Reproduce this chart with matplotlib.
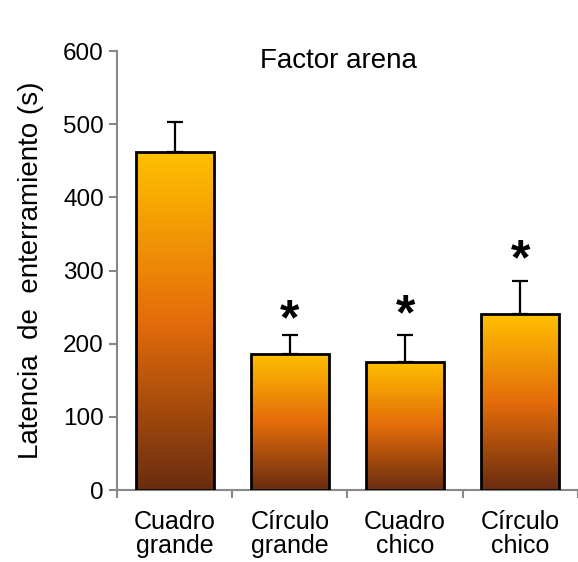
import numpy as np
import matplotlib
matplotlib.use('Agg')
import matplotlib.pyplot as plt
from matplotlib.colors import LinearSegmentedColormap
from matplotlib.patches import Rectangle
from matplotlib.transforms import offset_copy

plt.rcParams['font.family'] = ['Liberation Sans', 'DejaVu Sans']

categories = ['Cuadro\ngrande', 'Círculo\ngrande', 'Cuadro\nchico', 'Círculo\nchico']
means = [462, 186, 175, 240]
errors = [41, 26, 37, 46]
# height of the significance asterisk (None = no mark)
star_y = [None, 246, 253, 328]

grad = LinearSegmentedColormap.from_list(
    'arena', [(0.0, '#6a2c10'), (0.5, '#e46c0a'), (1.0, '#ffc000')])

fig = plt.figure(figsize=(5.78, 5.62), dpi=100)
ax = fig.add_axes([0.2024, 0.128, 0.7976, 0.781])

x = np.arange(len(categories))
width = 0.675
ax.set_xlim(-0.5, len(categories) - 0.5)
ax.set_ylim(0, 600)

gradient = np.linspace(0, 1, 256).reshape(-1, 1)
for xi, m in zip(x, means):
    rect = Rectangle((xi - width / 2, 0), width, m, facecolor='none',
                     edgecolor='black', linewidth=2, zorder=3)
    ax.add_patch(rect)
    im = ax.imshow(gradient, cmap=grad, origin='lower', aspect='auto',
                   extent=(xi - width / 2, xi + width / 2, 0, m), zorder=2)
    im.set_clip_path(rect)

ax.errorbar(x, means, yerr=[np.zeros(len(means)), errors], fmt='none',
            ecolor='black', elinewidth=1.6, capsize=6, capthick=1.6, zorder=4)

# glyph sits high in its box, so shift it down to center the star itself
star_tr = offset_copy(ax.transData, fig=fig, y=-8, units='points')
for xi, sy in zip(x, star_y):
    if sy is not None:
        ax.text(xi, sy, '*', ha='center', va='center', transform=star_tr,
                fontsize=36, fontweight='bold')

ax.text(1.42, 587, 'Factor arena', ha='center', va='center', fontsize=20)

ax.set_yticks(range(0, 601, 100))
ax.set_xticks(x)
ax.set_xticklabels(categories, fontsize=18, linespacing=1.0)
ax.set_xticks(np.arange(-0.5, len(categories), 1), minor=True)
ax.tick_params(axis='x', which='major', length=0, pad=14)
ax.tick_params(axis='x', which='minor', length=6, width=1.5, color='#888888')
ax.tick_params(axis='y', labelsize=17.5, length=6, width=1.5, color='#888888')
ax.set_ylabel('Latencia  de  enterramiento (s)', fontsize=20, labelpad=14)

for side in ['top', 'right']:
    ax.spines[side].set_visible(False)
for side in ['left', 'bottom']:
    ax.spines[side].set_color('#888888')
    ax.spines[side].set_linewidth(1.5)

plt.savefig('out.png', dpi=100)
